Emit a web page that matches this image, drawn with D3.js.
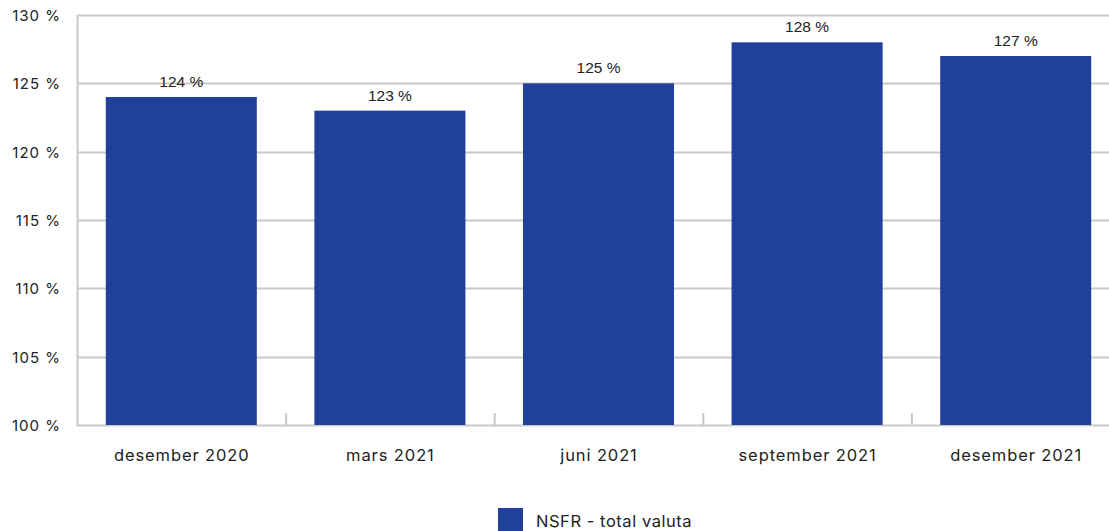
<!DOCTYPE html>
<html>
<head>
<meta charset="utf-8">
<script src="https://cdn.jsdelivr.net/npm/d3@7"></script>
<style>
  html, body { margin: 0; padding: 0; background: #fff; }
  svg { display: block; font-family: Inter, "Open Sans", sans-serif; }
</style>
</head>
<body>
<svg id="chart" width="1109" height="531"></svg>
<script>
// NSFR, total valuta
const categories = ["desember 2020", "mars 2021", "juni 2021", "september 2021", "desember 2021"];
const values = [124, 123, 125, 128, 127];
const yTicks = [100, 105, 110, 115, 120, 125, 130];
const seriesName = "NSFR - total valuta";

const svg = d3.select("#chart");
const margin = { left: 77, top: 15, bottom: 106 };
const plotRight = 1120;
const H = 531;

const x = d3.scaleBand()
  .domain(categories)
  .range([margin.left, plotRight])
  .paddingInner(0.276)
  .paddingOuter(0.138);

const y = d3.scaleLinear()
  .domain([100, 130])
  .range([H - margin.bottom, margin.top]);

const gridColor = "#c9c9cc";
const barColor = "#21409a";
const textColor = "#222";

// horizontal gridlines
svg.append("g")
  .selectAll("line")
  .data(yTicks)
  .join("line")
  .attr("x1", margin.left)
  .attr("x2", plotRight)
  .attr("y1", d => Math.round(y(d)) + 0.5)
  .attr("y2", d => Math.round(y(d)) + 0.5)
  .attr("stroke", gridColor)
  .attr("stroke-width", 2);

// y axis line
svg.append("line")
  .attr("x1", margin.left + 0.5).attr("x2", margin.left + 0.5)
  .attr("y1", y(130)).attr("y2", y(100) + 1)
  .attr("stroke", gridColor).attr("stroke-width", 2);

// y tick labels
svg.append("g")
  .selectAll("text")
  .data(yTicks)
  .join("text")
  .attr("x", 61)
  .attr("y", d => y(d) + 6)
  .attr("text-anchor", "end")
  .attr("font-size", 15)
  .attr("letter-spacing", 1)
  .attr("fill", textColor)
  .text(d => d + " %");

// bars
svg.append("g")
  .selectAll("rect")
  .data(values)
  .join("rect")
  .attr("x", (d, i) => x(categories[i]))
  .attr("width", x.bandwidth())
  .attr("y", d => y(d))
  .attr("height", d => y(100) - y(d))
  .attr("fill", barColor);

// category separators on the x axis
const step = x.step();
svg.append("g")
  .selectAll("line")
  .data(categories.slice(1))
  .join("line")
  .attr("x1", d => x(d) - step * 0.138 + 0.5)
  .attr("x2", d => x(d) - step * 0.138 + 0.5)
  .attr("y1", y(100) - 12)
  .attr("y2", y(100))
  .attr("stroke", gridColor)
  .attr("stroke-width", 2);

// value labels
svg.append("g")
  .selectAll("text")
  .data(values)
  .join("text")
  .attr("x", (d, i) => x(categories[i]) + x.bandwidth() / 2)
  .attr("y", d => y(d) - 10)
  .attr("text-anchor", "middle")
  .attr("font-family", "'Liberation Sans', Arial, sans-serif")
  .attr("font-size", 15.5)
  .attr("fill", textColor)
  .text(d => d + " %");

// category labels
svg.append("g")
  .selectAll("text")
  .data(categories)
  .join("text")
  .attr("x", d => x(d) + x.bandwidth() / 2 + 0.5)
  .attr("y", 461)
  .attr("text-anchor", "middle")
  .attr("font-size", 16.5)
  .attr("letter-spacing", 0.9)
  .attr("fill", textColor)
  .text(d => d);

// legend
const legend = svg.append("g");
legend.append("rect")
  .attr("x", 498).attr("y", 508)
  .attr("width", 25).attr("height", 25)
  .attr("fill", barColor);
legend.append("text")
  .attr("x", 536).attr("y", 527)
  .attr("font-size", 16.5)
  .attr("letter-spacing", 0.55)
  .attr("fill", textColor)
  .text(seriesName);
</script>
</body>
</html>
